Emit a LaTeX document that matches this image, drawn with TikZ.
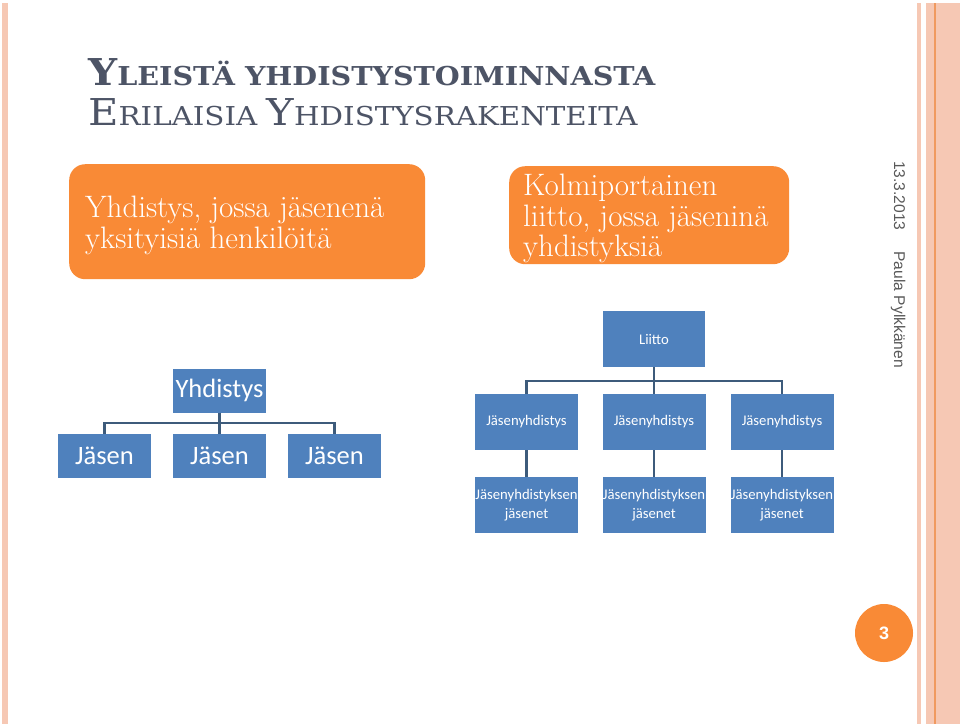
\documentclass[tikz,border=0pt]{standalone}
\usepackage{fontspec}
\newfontfamily\carl{Carlito}
\newfontfamily\arl{Liberation Sans}
\newfontfamily\dvs{DejaVu Serif}
\definecolor{titlec}{HTML}{4D5466}
\definecolor{orng}{HTML}{F98A36}
\definecolor{bluebox}{HTML}{4F81BD}
\definecolor{connc}{HTML}{3D5B7B}
\definecolor{salmon}{HTML}{F6C8B4}
\definecolor{stripe}{HTML}{F09A60}
\definecolor{graytext}{HTML}{595959}
\newcommand{\bigc}[1]{{\fontsize{37}{39}\selectfont #1}}
\newcommand{\smallc}[1]{{\fontsize{26}{28}\selectfont #1}}
\tikzset{
  obox/.style={fill=orng, rounded corners=16pt, draw=none, inner sep=0pt, anchor=north west},
  otext/.style={text=white, anchor=base west, inner sep=0pt, font=\fontsize{31}{33}\selectfont},
  ttext/.style={text=titlec, anchor=base west, inner sep=0pt, font=\dvs},
  bigblue/.style={fill=bluebox, text=white, inner sep=0pt, minimum width=93pt, minimum height=44pt, font=\carl\fontsize{26.5}{28}\selectfont},
  smallblue/.style={fill=bluebox, text=white, inner sep=0pt, minimum width=103pt, minimum height=56pt, font=\carl\fontsize{14.7}{19}\selectfont, align=center},
  conn/.style={draw=connc, line width=2.6pt},
  connr/.style={draw=connc, line width=2.2pt},
}
\begin{document}
\begin{tikzpicture}[x=1pt,y=-1pt]
\useasboundingbox (0,0) rectangle (960,724);
\fill[white] (0,0) rectangle (960,724);
% side stripes
\fill[salmon] (2,3) rectangle (8,724);
\fill[salmon] (917,3) rectangle (921,724);
\fill[salmon] (926,3) rectangle (960,724);
\fill[stripe] (934,3) rectangle (936,724);
% title
\node[ttext, font=\dvs\bfseries] (title1) at (88,85) {\scalebox{1.10}[1]{\bigc{Y}\smallc{LEISTÄ YHDISTYSTOIMINNASTA}}};
\node[ttext] (title2) at (88,125) {\scalebox{1.127}[1]{\bigc{E}\smallc{RILAISIA }\bigc{Y}\smallc{HDISTYSRAKENTEITA}}};
% orange boxes
\node[obox, minimum width=356pt, minimum height=115pt] (box1) at (69,164) {};
\node[otext] (b1l1) at (85,217) {Yhdistys, jossa jäsenenä};
\node[otext] (b1l2) at (85,248) {yksityisiä henkilöitä};
\node[obox, minimum width=280pt, minimum height=98pt] (box2) at (509,166) {};
\node[otext] (b2l1) at (523,195) {Kolmiportainen};
\node[otext] (b2l2) at (523,226) {liitto, jossa jäseninä};
\node[otext] (b2l3) at (523,256) {yhdistyksiä};
% left chart
\node[bigblue] (yh) at (219.5,390.5) {Yhdistys};
\node[bigblue] (j1) at (104.5,456) {Jäsen};
\node[bigblue] (j2) at (219.5,456) {Jäsen};
\node[bigblue] (j3) at (334.5,456) {Jäsen};
\coordinate (lb) at (219.5,423);
\draw[conn] (yh.south) -- (lb);
\draw[conn] (j1.north) |- (lb) -| (j3.north);
\draw[conn] (lb) -- (j2.north);
% right chart
\node[smallblue, minimum width=102pt] (li) at (654,339) {Liitto};
\node[smallblue] (m1) at (526.5,422) {Jäsenyhdistys};
\node[smallblue] (m2) at (654,422) {Jäsenyhdistys};
\node[smallblue] (m3) at (782,422) {Jäsenyhdistys};
\node[smallblue] (n1) at (526.5,505) {Jäsenyhdistyksen\\jäsenet};
\node[smallblue] (n2) at (654,505) {Jäsenyhdistyksen\\jäsenet};
\node[smallblue] (n3) at (782,505) {Jäsenyhdistyksen\\jäsenet};
\coordinate (rb) at (654,381);
\draw[connr] (li.south) -- (rb);
\draw[connr] (m1.north) |- (rb) -| (m3.north);
\draw[connr] (rb) -- (m2.north);
\draw[connr] (m1.south) -- (n1.north);
\draw[connr] (m2.south) -- (n2.north);
\draw[connr] (m3.south) -- (n3.north);
% side text
\node[anchor=base west, rotate=-90, inner sep=0pt, text=graytext, font=\arl\fontsize{15.6}{18}\selectfont] (side) at (894,161) {13.3.2013\hspace{21pt}Paula Pylkkänen};
% page number
\node[circle, fill=orng, minimum size=58pt, inner sep=0pt, text=white, font=\arl\bfseries\fontsize{18}{20}\selectfont] (pg) at (884,633) {3};
\end{tikzpicture}
\end{document}
